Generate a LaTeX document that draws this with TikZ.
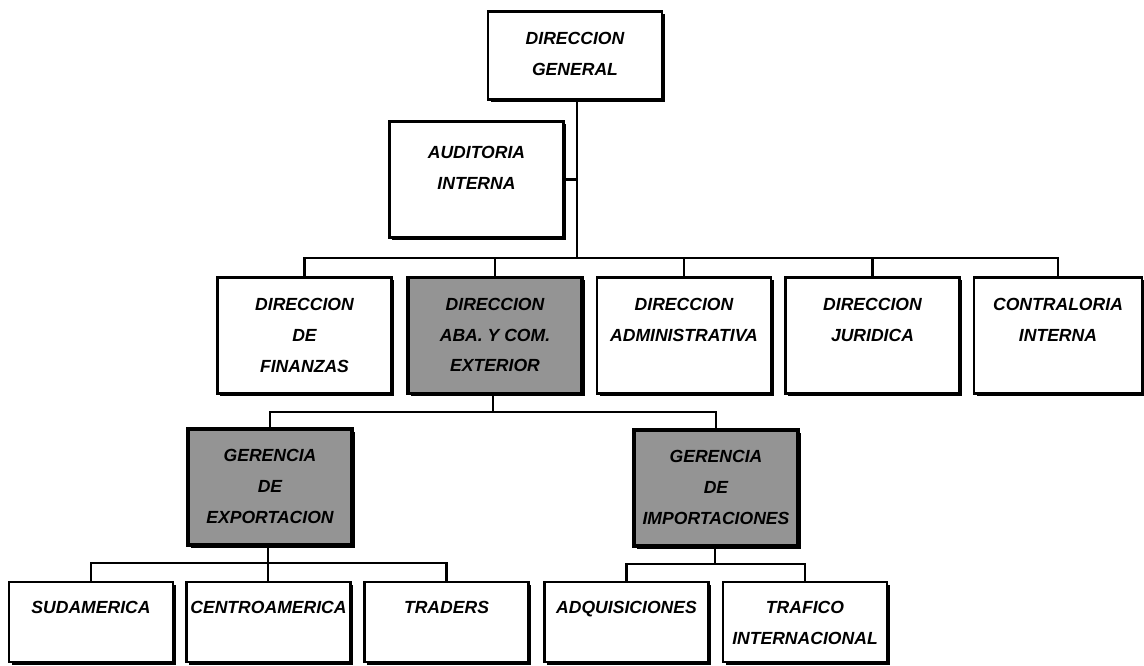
\documentclass[tikz,border=0pt]{standalone}
\usepackage{fontspec}
\setmainfont{Liberation Sans}
\usetikzlibrary{shadows}
\begin{document}
\begin{tikzpicture}[x=0.025cm, y=-0.025cm]
  \tikzset{
    unit/.style={
      draw=black, line width=2pt, fill=white, inner sep=0pt,
      minimum width=4.35cm, minimum height=2.9cm,
      drop shadow={shadow xshift=1.8pt, shadow yshift=-1.8pt, fill=black, opacity=1}
    },
    shaded/.style={unit, fill=black!42, line width=2.8pt},
    narrow/.style={minimum width=4.1cm},
    leaf/.style={unit, narrow, minimum height=2cm},
    tag/.style={
      anchor=north, yshift=-0.55cm, inner sep=0pt, align=center,
      font=\fontsize{12.5}{22}\selectfont\bfseries\itshape
    },
    link/.style={draw=black, line width=1.6pt}
  }
  \useasboundingbox (0,0) rectangle (1144,665);
  \node[unit, minimum height=2.2cm, label={[tag]north:{DIRECCION\\GENERAL}}] (dg) at (575,55.5) {};
  \node[unit, label={[tag, yshift=-0.1cm]north:{AUDITORIA\\INTERNA}}] (aud) at (476.5,179.5) {};
  \node[unit, label={[tag]north:{DIRECCION\\DE\\FINANZAS}}] (fin) at (304.5,335.5) {};
  \node[shaded, label={[tag]north:{DIRECCION\\ABA. Y COM.\\EXTERIOR}}] (aba) at (495,335.5) {};
  \node[unit, label={[tag]north:{DIRECCION\\ADMINISTRATIVA}}] (adm) at (684,335.5) {};
  \node[unit, label={[tag]north:{DIRECCION\\JURIDICA}}] (jur) at (872.5,335.5) {};
  \node[unit, minimum width=4.2cm, label={[tag]north:{CONTRALORIA\\INTERNA}}] (con) at (1058,335.5) {};
  \node[shaded, narrow, label={[tag]north:{GERENCIA\\DE\\EXPORTACION}}] (exp) at (270,487) {};
  \node[shaded, narrow, label={[tag]north:{GERENCIA\\DE\\IMPORTACIONES}}] (imp) at (716,488) {};
  \node[leaf, label={[tag, yshift=0.05cm]north:SUDAMERICA}] (sud) at (91,622) {};
  \node[leaf, label={[tag, yshift=0.05cm]north:CENTROAMERICA}] (cen) at (268.5,622) {};
  \node[leaf, label={[tag, yshift=0.05cm]north:TRADERS}] (tra) at (446.5,622) {};
  \node[leaf, label={[tag, yshift=0.05cm]north:ADQUISICIONES}] (adq) at (626.5,622) {};
  \node[leaf, label={[tag, yshift=0.05cm]north:{TRAFICO\\INTERNACIONAL}}] (trf) at (805,622) {};

  \coordinate (bus1) at (577,258);
  \coordinate (bus2) at (493,412);
  \coordinate (bus3) at (268,563);
  \coordinate (bus4) at (715,564);

  \draw[link] (dg.south -| bus1) -- (bus1);
  \draw[link] (aud.east) -- (aud.east -| bus1);
  \draw[link] (fin.north) |- (bus1) -| (con.north);
  \draw[link] (aba.north) -- (aba.north |- bus1);
  \draw[link] (adm.north) -- (adm.north |- bus1);
  \draw[link] (jur.north) -- (jur.north |- bus1);

  \draw[link] (aba.south -| bus2) -- (bus2);
  \draw[link] (exp.north) |- (bus2) -| (imp.north);

  \draw[link] (exp.south -| bus3) -- (bus3);
  \draw[link] (sud.north) |- (bus3) -| (tra.north);
  \draw[link] (cen.north -| bus3) -- (bus3);

  \draw[link] (imp.south -| bus4) -- (bus4);
  \draw[link] (adq.north) |- (bus4) -| (trf.north);
\end{tikzpicture}
\end{document}
